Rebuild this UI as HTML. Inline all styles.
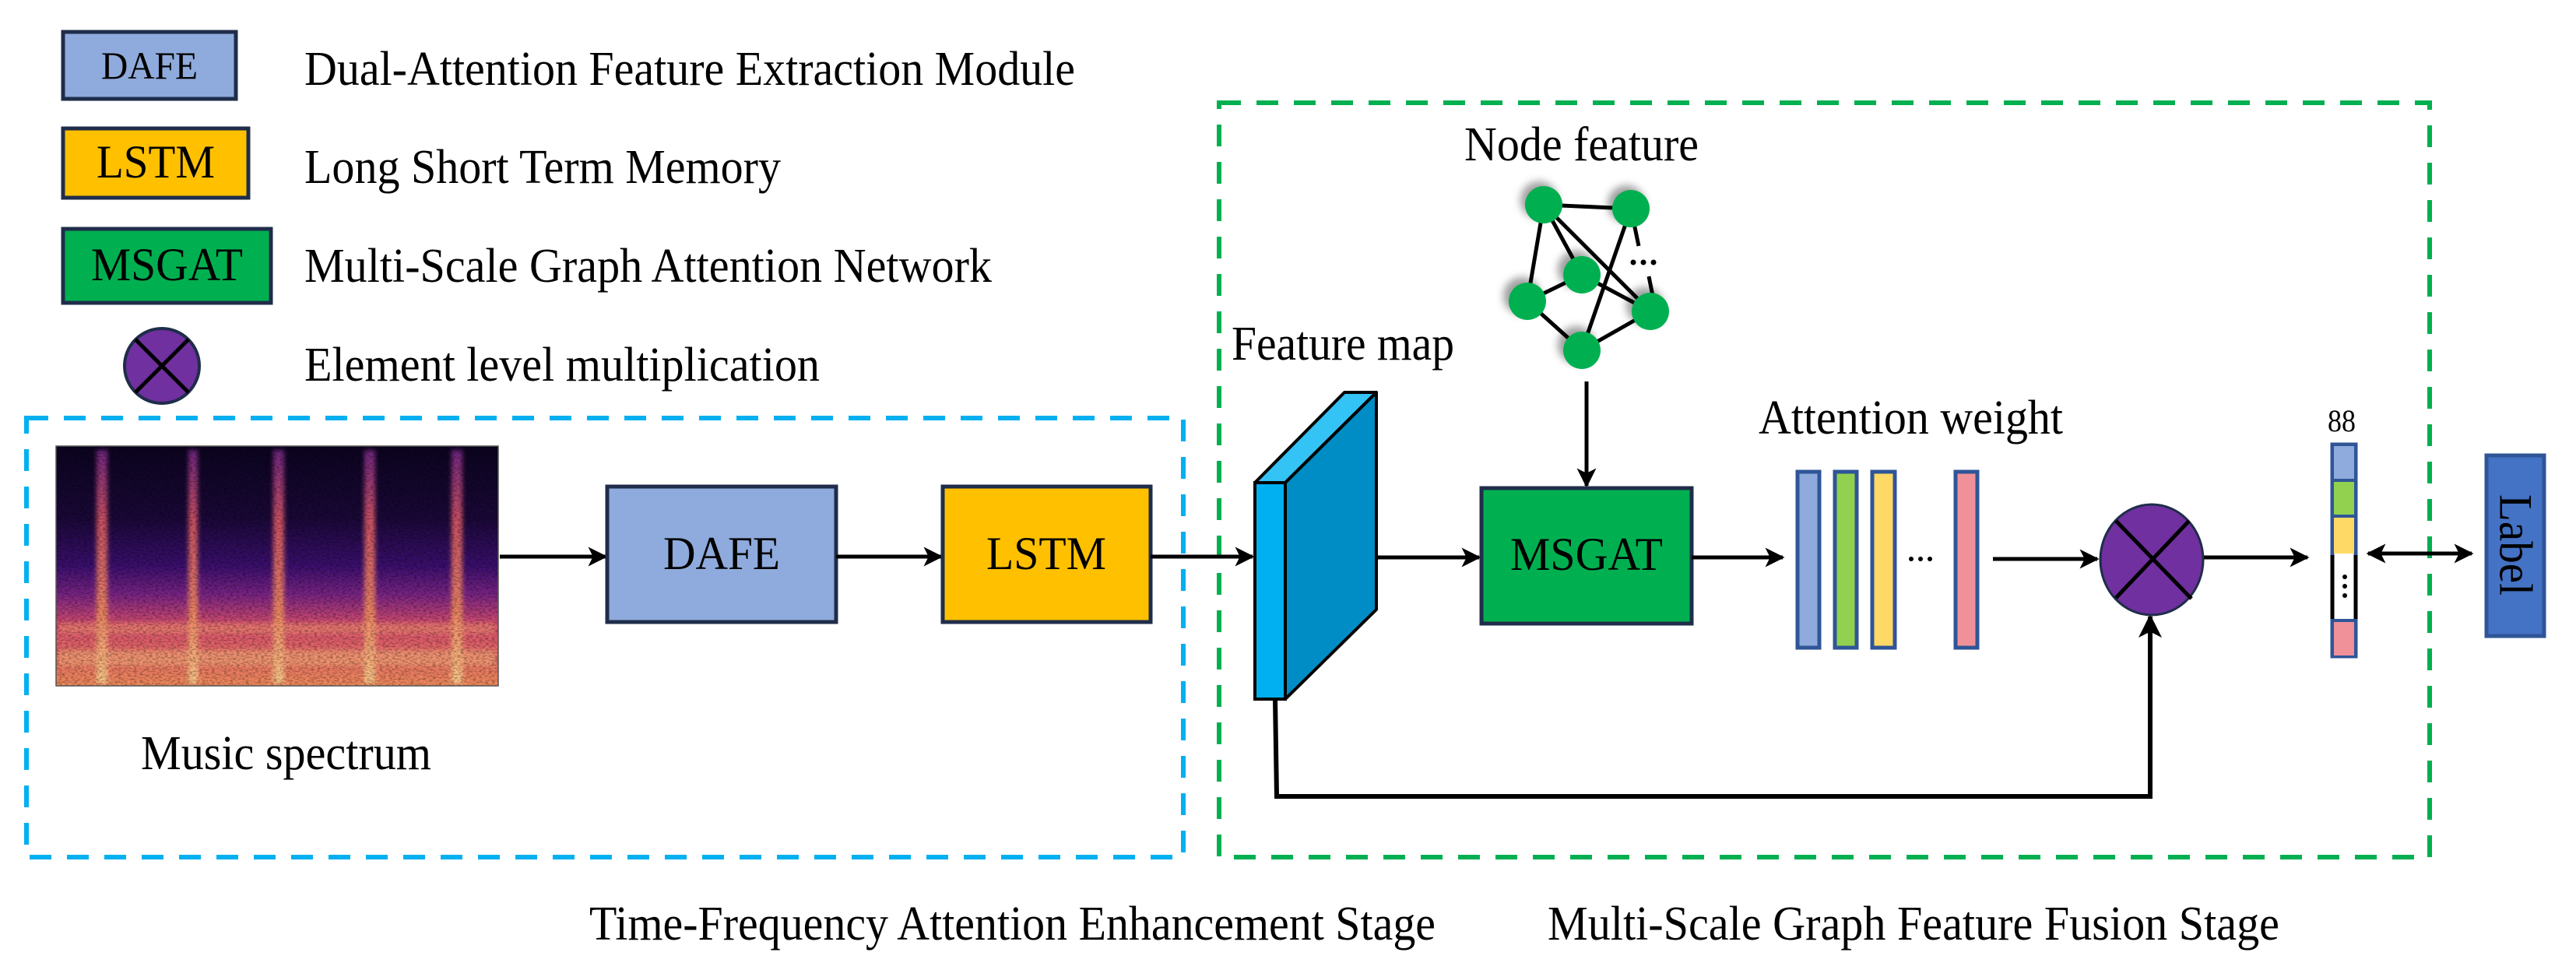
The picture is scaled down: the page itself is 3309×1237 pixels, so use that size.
<!DOCTYPE html>
<html><head><meta charset="utf-8"><style>
html,body{margin:0;padding:0;background:#fff}
#wrap{position:relative;width:3309px;height:1237px;overflow:hidden}
svg{display:block;position:absolute;left:0;top:0}
.t{position:absolute;white-space:nowrap;font-family:"Liberation Serif","Times New Roman",serif;color:#000;line-height:1;transform-origin:0 0}
</style></head><body><div id="wrap">
<svg width="3309" height="1237" viewBox="0 0 3309 1237" xmlns="http://www.w3.org/2000/svg">
<defs>
<marker id="ah" viewBox="0 0 10 10" refX="9" refY="5" markerWidth="5" markerHeight="5" orient="auto-start-reverse" markerUnits="strokeWidth">
<path d="M0,0 L10,5 L0,10 L2.5,5 z" fill="#000"/></marker>
<linearGradient id="spec" x1="0" y1="0" x2="0" y2="1">
<stop offset="0" stop-color="#0c0420"/><stop offset="0.3" stop-color="#1a0838"/>
<stop offset="0.5" stop-color="#3b0f6e"/><stop offset="0.62" stop-color="#7a2484"/>
<stop offset="0.75" stop-color="#d84f6e"/><stop offset="1" stop-color="#f08a5c"/></linearGradient>
<linearGradient id="stripe" x1="0" y1="0" x2="0" y2="1">
<stop offset="0" stop-color="#7a2a8a"/><stop offset="0.3" stop-color="#e05a6a"/>
<stop offset="0.7" stop-color="#f59060"/><stop offset="1" stop-color="#fcd090"/></linearGradient>
<filter id="bl"><feGaussianBlur stdDeviation="3"/></filter>
<filter id="noise" x="0" y="0" width="100%" height="100%">
<feTurbulence type="fractalNoise" baseFrequency="0.25 0.5" numOctaves="2" seed="3" result="n"/>
<feColorMatrix in="n" type="matrix" values="0 0 0 0 0  0 0 0 0 0  0 0 0 0 0  0 0 0 1.4 -0.55" />
</filter>
<filter id="sh" x="-50%" y="-50%" width="200%" height="200%"><feGaussianBlur stdDeviation="5"/></filter>
</defs>

<rect x="81" y="41" width="222" height="86" fill="#8faadc" stroke="#1f2d4a" stroke-width="5"/>
<rect x="81" y="165" width="238" height="89" fill="#ffc000" stroke="#1f2d4a" stroke-width="5"/>
<rect x="81" y="294" width="267" height="95" fill="#00b050" stroke="#1f2d4a" stroke-width="5"/>
<ellipse cx="208" cy="470" rx="48" ry="48" fill="#7030a0" stroke="#1f2d4a" stroke-width="4"/>
<line x1="174" y1="436" x2="242" y2="504" stroke="#000" stroke-width="5"/>
<line x1="242" y1="436" x2="174" y2="504" stroke="#000" stroke-width="5"/>

<rect x="34" y="537" width="1486" height="564" fill="none" stroke="#00b0f0" stroke-width="6" stroke-dasharray="28,20"/>
<rect x="1566" y="132" width="1555" height="969" fill="none" stroke="#00b050" stroke-width="6" stroke-dasharray="28,20"/>

<rect x="72" y="573" width="568" height="308" fill="url(#spec)"/>
<g filter="url(#bl)" opacity="0.9">
<rect x="124" y="578" width="14" height="300" fill="url(#stripe)"/>
<rect x="242" y="578" width="12" height="300" fill="url(#stripe)"/>
<rect x="351" y="578" width="14" height="300" fill="url(#stripe)"/>
<rect x="468" y="578" width="14" height="300" fill="url(#stripe)"/>
<rect x="580" y="578" width="14" height="300" fill="url(#stripe)"/>
<rect x="76" y="835" width="560" height="20" fill="#f6b07a" opacity="0.6"/>
<rect x="76" y="800" width="560" height="14" fill="#f6a070" opacity="0.5"/>
</g>
<rect x="72" y="573" width="568" height="308" filter="url(#noise)" opacity="0.6"/>
<rect x="72" y="573" width="568" height="308" fill="none" stroke="#555" stroke-width="1.5"/>

<line x1="642" y1="715" x2="778" y2="715" stroke="#000" stroke-width="5" marker-end="url(#ah)"/>
<rect x="780" y="625" width="294" height="174" fill="#8faadc" stroke="#1f2d4a" stroke-width="5"/>
<line x1="1074" y1="715" x2="1209" y2="715" stroke="#000" stroke-width="5" marker-end="url(#ah)"/>
<rect x="1211" y="625" width="267" height="174" fill="#ffc000" stroke="#1f2d4a" stroke-width="5"/>
<line x1="1478" y1="715" x2="1609" y2="715" stroke="#000" stroke-width="5" marker-end="url(#ah)"/>

<polyline points="1638,898 1640,1023 2762,1023 2762,792" fill="none" stroke="#000" stroke-width="6" marker-end="url(#ah)"/>
<polygon points="1612,620 1727,504 1768,504 1651,620" fill="#33c3f5" stroke="#000" stroke-width="4" stroke-linejoin="round"/>
<polygon points="1651,620 1768,504 1768,783 1651,898" fill="#008cc4" stroke="#000" stroke-width="4" stroke-linejoin="round"/>
<rect x="1612" y="620" width="39" height="278" fill="#00b0f0" stroke="#000" stroke-width="4"/>

<line x1="1769" y1="716" x2="1900" y2="716" stroke="#000" stroke-width="5" marker-end="url(#ah)"/>

<g fill="#888" filter="url(#sh)" opacity="0.8">
<circle cx="1977" cy="257" r="24"/><circle cx="2089" cy="262" r="24"/><circle cx="2025" cy="346" r="24"/>
<circle cx="1955" cy="380" r="24"/><circle cx="2113" cy="393" r="24"/><circle cx="2025" cy="443" r="24"/></g>
<g stroke="#000" stroke-width="5">
<line x1="1983" y1="263" x2="2095" y2="268"/><line x1="1983" y1="263" x2="1962" y2="387"/>
<line x1="1983" y1="263" x2="2032" y2="353"/><line x1="1983" y1="263" x2="2120" y2="400"/>
<line x1="2032" y1="353" x2="1962" y2="387"/><line x1="2032" y1="353" x2="2120" y2="400"/>
<line x1="1962" y1="387" x2="2032" y2="450"/><line x1="2032" y1="450" x2="2120" y2="400"/>
<line x1="2032" y1="450" x2="2095" y2="268"/>
<line x1="2095" y1="268" x2="2105" y2="316"/><line x1="2118" y1="355" x2="2124" y2="385"/>
</g>
<g fill="#00b050">
<circle cx="1983" cy="263" r="24"/><circle cx="2095" cy="268" r="24"/><circle cx="2032" cy="353" r="24"/>
<circle cx="1962" cy="387" r="24"/><circle cx="2120" cy="400" r="24"/><circle cx="2032" cy="450" r="24"/></g>
<g fill="#000"><circle cx="2098" cy="337" r="3.5"/><circle cx="2111" cy="337" r="3.5"/><circle cx="2124" cy="337" r="3.5"/></g>

<line x1="2038" y1="490" x2="2038" y2="624" stroke="#000" stroke-width="5" marker-end="url(#ah)"/>
<rect x="1903" y="627" width="270" height="174" fill="#00b050" stroke="#1f2d4a" stroke-width="5"/>
<line x1="2173" y1="716" x2="2290" y2="716" stroke="#000" stroke-width="5" marker-end="url(#ah)"/>

<g stroke="#2f5597" stroke-width="5">
<rect x="2309" y="606" width="28" height="226" fill="#8faadc"/>
<rect x="2357" y="606" width="28" height="226" fill="#92d050"/>
<rect x="2405" y="606" width="29" height="226" fill="#ffd966"/>
<rect x="2512" y="606" width="28" height="226" fill="#f0919a"/>
</g>
<g fill="#000"><circle cx="2455" cy="718" r="3"/><circle cx="2467" cy="718" r="3"/><circle cx="2479" cy="718" r="3"/></g>
<line x1="2560" y1="718" x2="2694" y2="718" stroke="#000" stroke-width="5" marker-end="url(#ah)"/>

<ellipse cx="2764" cy="719" rx="66" ry="71" fill="#7030a0" stroke="#1f2d4a" stroke-width="3"/>
<line x1="2718" y1="669" x2="2815" y2="769" stroke="#000" stroke-width="5"/>
<line x1="2812" y1="669" x2="2718" y2="768" stroke="#000" stroke-width="5"/>
<line x1="2831" y1="716" x2="2964" y2="716" stroke="#000" stroke-width="5" marker-end="url(#ah)"/>

<rect x="2996" y="571" width="30" height="272" fill="#fff" stroke="#2f5597" stroke-width="5"/>
<rect x="2998" y="573" width="26" height="44" fill="#8faadc"/>
<rect x="2998" y="619" width="26" height="44" fill="#92d050"/>
<rect x="2998" y="665" width="26" height="46" fill="#ffd966"/>
<rect x="2998" y="797" width="26" height="45" fill="#f0919a"/>
<line x1="2996" y1="617" x2="3026" y2="617" stroke="#2f5597" stroke-width="4"/>
<line x1="2996" y1="663" x2="3026" y2="663" stroke="#2f5597" stroke-width="4"/>
<line x1="2996" y1="797" x2="3026" y2="797" stroke="#2f5597" stroke-width="4"/>
<line x1="2996" y1="713" x2="2996" y2="795" stroke="#000" stroke-width="5"/>
<line x1="3026" y1="713" x2="3026" y2="795" stroke="#000" stroke-width="5"/>
<g fill="#000"><circle cx="3012" cy="741" r="3"/><circle cx="3012" cy="753" r="3"/><circle cx="3012" cy="765" r="3"/></g>

<line x1="3042" y1="711" x2="3175" y2="711" stroke="#000" stroke-width="5" marker-start="url(#ah)" marker-end="url(#ah)"/>
<rect x="3194" y="585" width="74" height="232" fill="#4472c4" stroke="#2f5597" stroke-width="5"/>
</svg>

<!-- text: top = baseline - 0.84*fs ; width target in --w -->
<div class="t" style="left:130px;top:59px;font-size:50px;--w:124px">DAFE</div>
<div class="t" style="left:124px;top:178px;font-size:60px;--w:152px">LSTM</div>
<div class="t" style="left:117px;top:310px;font-size:60px;--w:195px">MSGAT</div>
<div class="t" style="left:391px;top:58px;font-size:62px;--w:990px">Dual-Attention Feature Extraction Module</div>
<div class="t" style="left:391px;top:184px;font-size:62px;--w:612px">Long Short Term Memory</div>
<div class="t" style="left:391px;top:311px;font-size:62px;--w:883px">Multi-Scale Graph Attention Network</div>
<div class="t" style="left:391px;top:438px;font-size:62px;--w:662px">Element level multiplication</div>
<div class="t" style="left:181px;top:937px;font-size:62px;--w:373px">Music spectrum</div>
<div class="t" style="left:852px;top:681px;font-size:60px;--w:150px">DAFE</div>
<div class="t" style="left:1267px;top:681px;font-size:60px;--w:154px">LSTM</div>
<div class="t" style="left:1940px;top:682px;font-size:60px;--w:196px">MSGAT</div>
<div class="t" style="left:1582px;top:411px;font-size:62px;--w:286px">Feature map</div>
<div class="t" style="left:1881px;top:155px;font-size:62px;--w:301px">Node feature</div>
<div class="t" style="left:2259px;top:506px;font-size:62px;--w:391px">Attention weight</div>
<div class="t" style="left:2990px;top:521px;font-size:40px;--w:36px">88</div>
<div class="t" style="left:757px;top:1156px;font-size:62px;--w:1087px">Time-Frequency Attention Enhancement Stage</div>
<div class="t" style="left:1988px;top:1156px;font-size:62px;--w:940px">Multi-Scale Graph Feature Fusion Stage</div>
<div class="t" id="lab" style="font-size:60px;--w:130px">Label</div>
</div>
<script>
document.querySelectorAll('.t').forEach(function(el){
  var w=parseFloat(getComputedStyle(el).getPropertyValue('--w'));
  var nat=el.getBoundingClientRect().width;
  var s=w/nat;
  if(el.id==='lab'){
    var h=el.getBoundingClientRect().height;
    // center at (3231,700), rotate 90deg clockwise
    el.style.left=(3231-w/2)+'px';
    el.style.top=(700-h/2)+'px';
    el.style.transformOrigin='50% 50%';
    el.style.transform='translateX('+((w-nat)/2)+'px) rotate(90deg) scaleX('+s+')';
    el.style.transformOrigin=(nat/2)+'px 50%';
    el.style.left=(3231-nat/2)+'px';
    el.style.transform='rotate(90deg) scaleX('+s+')';
  } else {
    el.style.transform='scaleX('+s+')';
  }
});
</script>
</body></html>
